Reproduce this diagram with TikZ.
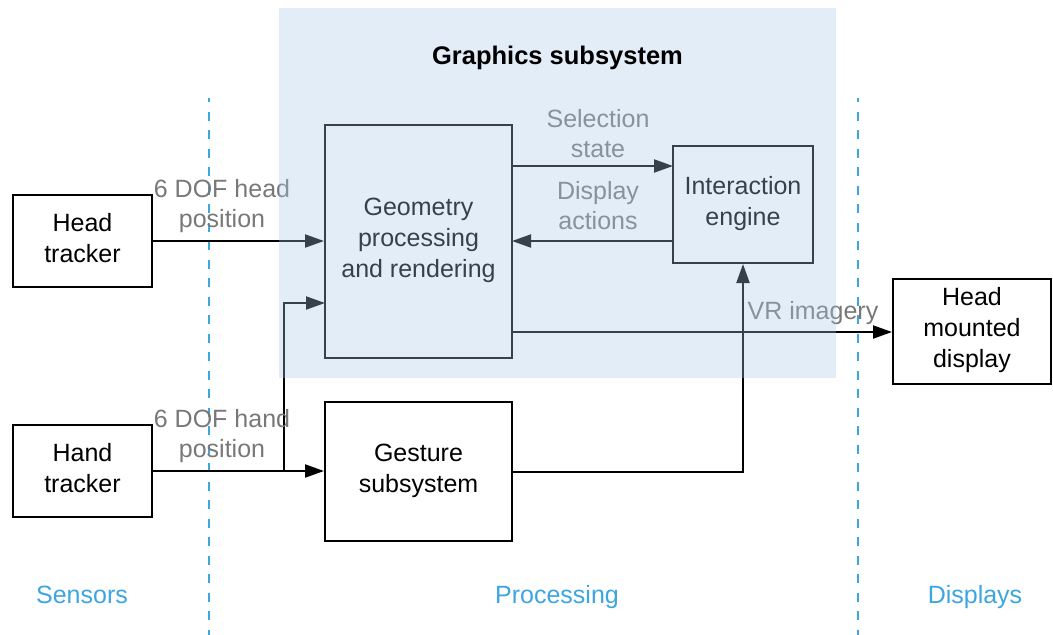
\documentclass[tikz,border=0pt]{standalone}
\usepackage{fontspec}
\setmainfont{Liberation Sans}
\usetikzlibrary{arrows.meta}

\definecolor{zoneblue}{RGB}{61,165,224}
\definecolor{labelgray}{RGB}{120,120,120}
\definecolor{panelblue}{RGB}{169,200,231}

% captions are placed by the baseline of their last line
\tikzset{
  blockbox/.style={draw=black, line width=2pt, inner sep=0pt},
  blocktext/.style={anchor=base, align=center, text=black,
    font=\fontsize{25}{31}\selectfont, inner sep=0pt},
  flowlabel/.style={anchor=base, align=center, text=labelgray,
    font=\fontsize{25}{30}\selectfont, inner sep=0pt},
  zonelabel/.style={anchor=base, text=zoneblue,
    font=\fontsize{25}{30}\selectfont, inner sep=0pt},
  divider/.style={draw=zoneblue, line width=2pt,
    dash pattern=on 9pt off 9.5pt, dash phase=5pt},
  flow/.style={draw=black, line width=2pt,
    -{Triangle[length=19pt,width=13pt]}},
}

\begin{document}
\begin{tikzpicture}[x=1pt,y=-1pt]
\useasboundingbox (0,0) rectangle (1053,635);

% zone dividers
\coordinate (divAtop) at (209,98);
\coordinate (divAbot) at (209,635);
\coordinate (divBtop) at (858,98);
\coordinate (divBbot) at (858,635);
\draw[divider] (divAtop) -- (divAbot);
\draw[divider] (divBtop) -- (divBbot);

% blocks
\node[blockbox, minimum width=139pt, minimum height=92pt] (headtr) at (82.5,241) {};
\node[blockbox, minimum width=139pt, minimum height=92pt] (handtr) at (82.5,471) {};
\node[blockbox, minimum width=187pt, minimum height=233pt] (geom) at (418.5,241.5) {};
\node[blockbox, minimum width=140pt, minimum height=117pt] (inter) at (743,204.5) {};
\node[blockbox, minimum width=187pt, minimum height=139pt] (gest) at (418.5,471.5) {};
\node[blockbox, minimum width=158pt, minimum height=105pt] (hmd) at (972,331.5) {};

% block captions
\node[blocktext] (headtr-t) at (82.5,262) {Head\\tracker};
\node[blocktext] (handtr-t) at (82.5,492) {Hand\\tracker};
\node[blocktext] (geom-t) at (418.5,277) {Geometry\\processing\\and rendering};
\node[blocktext] (inter-t) at (743,225) {Interaction\\engine};
\node[blocktext] (gest-t) at (418.5,492) {Gesture\\subsystem};
\node[blocktext] (hmd-t) at (972,367) {Head\\mounted\\display};

% connection points
\coordinate (split) at (284,471);
\coordinate (geomInB) at (325,303);
\coordinate (geomOutA) at (512,166);
\coordinate (interInA) at (673,166);
\coordinate (interOutB) at (673,241);
\coordinate (geomInC) at (512,241);
\coordinate (geomOutD) at (512,332);

% connectors
\draw[flow] (headtr.east) -- (headtr.east -| geom.west);
\draw[flow] (handtr.east) -- (handtr.east -| gest.west);
\draw[flow] (split) |- (geomInB);
\draw[flow] (geomOutA) -- (interInA);
\draw[flow] (interOutB) -- (geomInC);
\draw[flow] (geomOutD) -- (geomOutD -| hmd.west);
\draw[flow] (gest.east) -| (inter.south);

% connector labels
\node[flowlabel] (lbl-head) at (222,227) {6 DOF head\\position};
\node[flowlabel] (lbl-hand) at (222,457) {6 DOF hand\\position};
\node[flowlabel] (lbl-sel) at (598,157) {Selection\\state};
\node[flowlabel] (lbl-disp) at (598,229) {Display\\actions};
\node[flowlabel] (lbl-vr) at (813,319) {VR imagery};

% zone names
\node[zonelabel] (zone-s) at (82,603) {Sensors};
\node[zonelabel] (zone-p) at (557,603) {Processing};
\node[zonelabel] (zone-d) at (975,603) {Displays};

% graphics subsystem panel, laid over its contents
\fill[panelblue, fill opacity=0.325] (279,8) rectangle (836,378);
\node[anchor=base, inner sep=0pt, font=\fontsize{25.5}{30}\selectfont\bfseries]
  (panel-title) at (557.5,64) {Graphics subsystem};
\end{tikzpicture}
\end{document}
